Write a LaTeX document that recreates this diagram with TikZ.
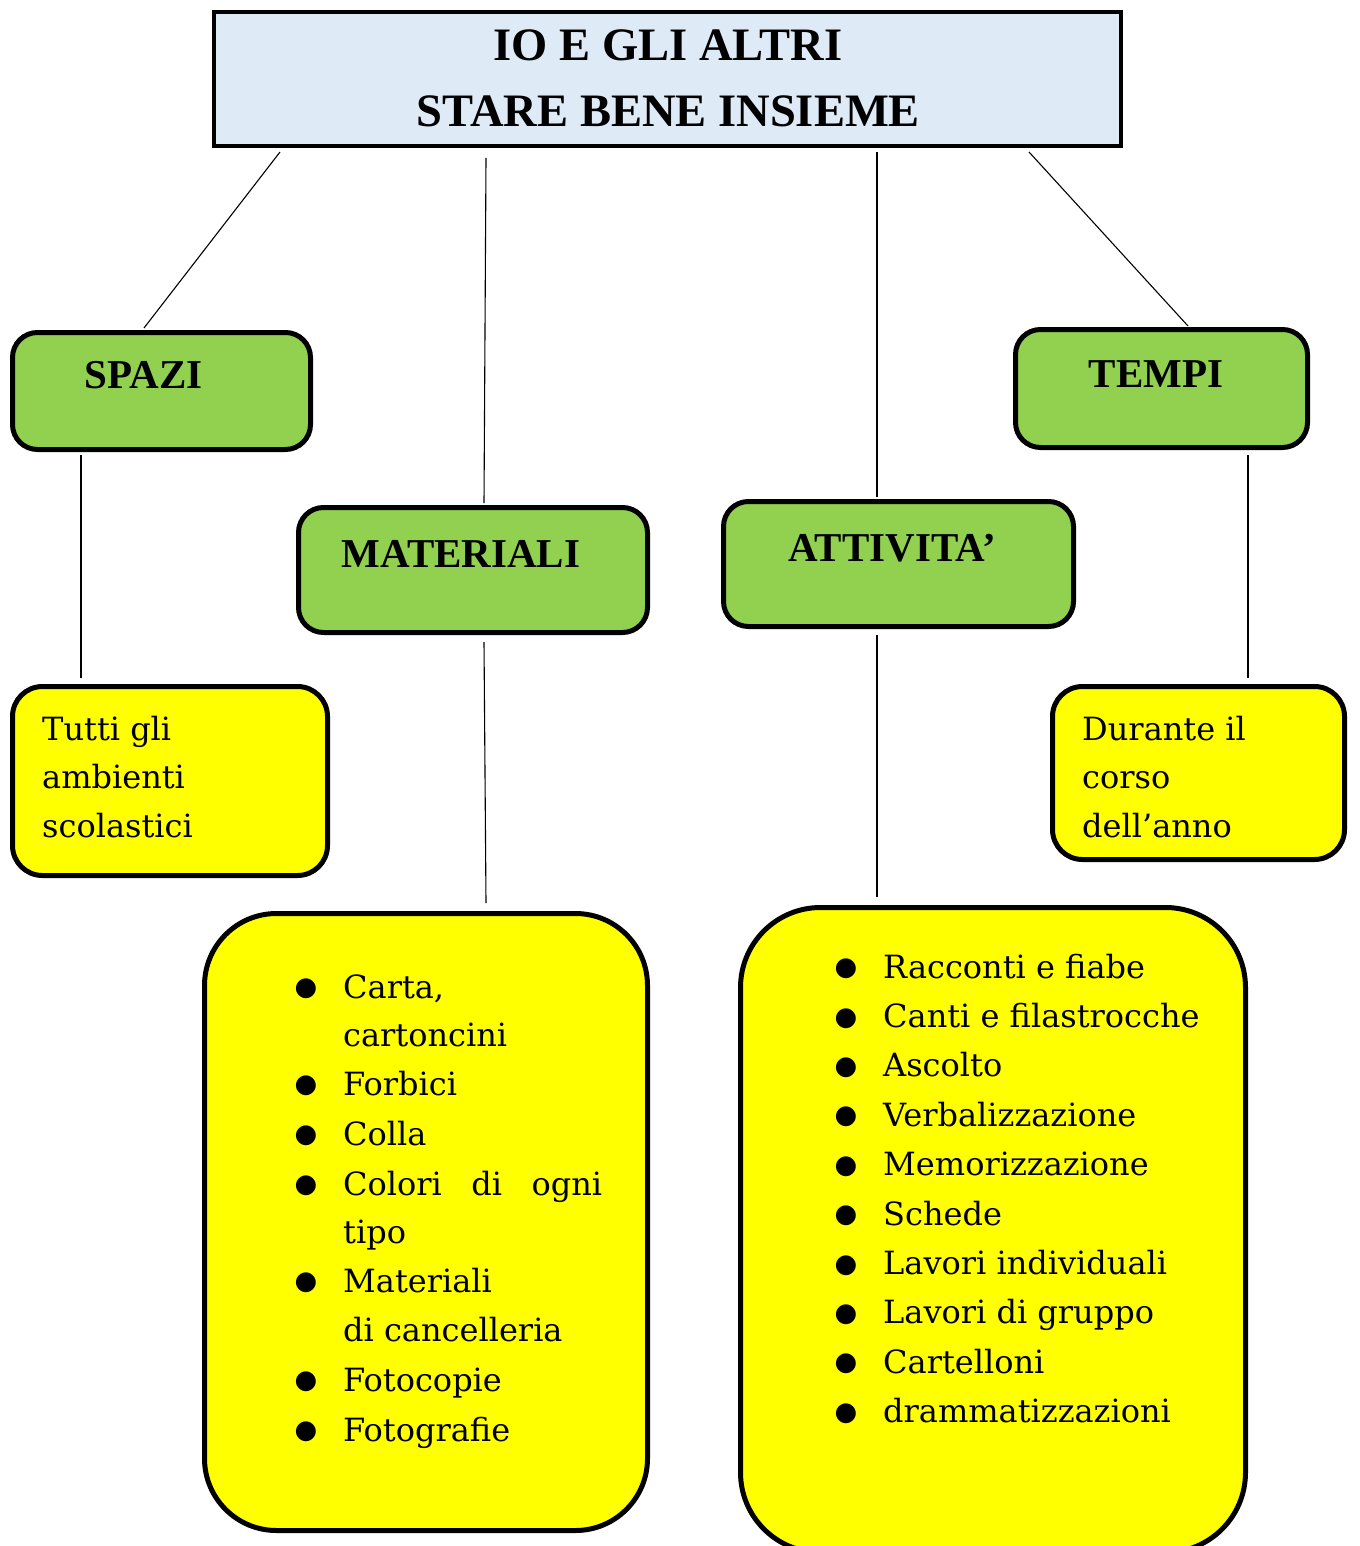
\documentclass[tikz,border=0pt]{standalone}
\usepackage{fontspec}
\setmainfont{DejaVu Serif}
\newfontfamily\headfont{Liberation Serif}
\newfontfamily\dotfont{DejaVu Sans}
\usetikzlibrary{positioning}

\definecolor{titleblue}{RGB}{222,234,246}
\definecolor{catgreen}{RGB}{146,208,80}
\definecolor{infoyellow}{RGB}{255,255,0}

\tikzset{
  titlebox/.style={draw, line width=4, fill=titleblue, inner sep=0pt},
  catbox/.style={draw, line width=5, fill=catgreen, rounded corners=25, inner sep=0pt},
  infobox/.style={draw, line width=5, fill=infoyellow, rounded corners=30, inner sep=0pt},
  link/.style={line width=1.1},
  headtxt/.style={font=\headfont\bfseries\fontsize{41}{41}\selectfont, inner sep=0pt, anchor=base},
  bodytxt/.style={font=\fontsize{32}{32}\selectfont, inner sep=0pt, anchor=base west},
  dot/.style={font=\dotfont\fontsize{26}{26}\selectfont, inner sep=0pt},
}

\begin{document}
\begin{tikzpicture}[x=1pt,y=1pt,yscale=-1,xscale=1]
\useasboundingbox (0,0) rectangle (1359,1546);
%Boxes
\node[titlebox, minimum width=907, minimum height=134] (title) at (667.5,79) {};
\node[catbox, minimum width=298, minimum height=117] (spazi) at (161.5,391) {};
\node[catbox, minimum width=292, minimum height=118] (tempi) at (1161.5,388.5) {};
\node[catbox, minimum width=349, minimum height=125] (materiali) at (473,570) {};
\node[catbox, minimum width=350, minimum height=125] (attivita) at (898.5,564) {};
\node[infobox, minimum width=315, minimum height=189] (spaziinfo) at (170,781) {};
\node[infobox, minimum width=292, minimum height=173] (tempiinfo) at (1198.5,773) {};
\node[infobox, rounded corners=72, minimum width=443, minimum height=617] (matlist) at (426,1222) {};
\node[infobox, rounded corners=80, minimum width=505, minimum height=645] (attlist) at (993,1230) {};
%Links
\draw[link] ([xshift=68pt,yshift=4pt]title.south west) -- ([xshift=-17.5pt,yshift=-2pt]spazi.north);
\draw[link] ([xshift=-181.5pt,yshift=10pt]title.south) -- ([xshift=11pt,yshift=-2pt]materiali.north);
\draw[link] ([xshift=209.5pt,yshift=4pt]title.south) -- ([xshift=-21.5pt,yshift=-2pt]attivita.north);
\draw[link] ([xshift=-94pt,yshift=4pt]title.south east) -- ([xshift=26.5pt,yshift=-1pt]tempi.north);
\draw[link] ([xshift=-80.5pt,yshift=3pt]spazi.south) -- ([xshift=-89pt,yshift=-6pt]spaziinfo.north);
\draw[link] ([xshift=11pt,yshift=7pt]materiali.south) -- ([xshift=60pt,yshift=-8pt]matlist.north);
\draw[link] ([xshift=-21.5pt,yshift=6pt]attivita.south) -- ([xshift=-116pt,yshift=-8pt]attlist.north);
\draw[link] ([xshift=86.5pt,yshift=5pt]tempi.south) -- ([xshift=49.5pt,yshift=-6pt]tempiinfo.north);
%Text
\node[headtxt, font=\headfont\bfseries\fontsize{46.5}{46.5}\selectfont] (title1) at (668,61) {IO E GLI ALTRI};
\node[headtxt, font=\headfont\bfseries\fontsize{46.5}{46.5}\selectfont] (title2) at (668.5,127) {STARE BENE INSIEME};
\node[headtxt] (spazitxt) at (143.5,388) {SPAZI};
\node[headtxt] (tempitxt) at (1156,387) {TEMPI};
\node[headtxt] (materialitxt) at (461,567) {MATERIALI};
\node[headtxt] (attivitatxt) at (892,561) {ATTIVITA’};
\foreach \t [count=\i from 0] in {Tutti gli, ambienti, scolastici}
  \node[bodytxt] (spazi\i) at (42,740+48.5*\i) {\t};
\foreach \t [count=\i from 0] in {Durante il, corso, dell’anno}
  \node[bodytxt] (tempi\i) at (1082,740+48.5*\i) {\t};
\foreach \y/\t [count=\i] in {998/{Carta,}, 1046/cartoncini, 1095/Forbici, 1145/Colla,
    1195/{\makebox[259pt][s]{Colori\hfill di\hfill ogni}}, 1243/tipo, 1292/Materiali,
    1341/di cancelleria, 1391/Fotocopie, 1441/Fotografie}
  \node[bodytxt] (mat\i) at (343,\y) {\t};
\foreach \y [count=\i] in {998,1095,1145,1195,1292,1391,1441}
  \node[dot] (matdot\i) at (306,\y-9.5) {●};
\foreach \t [count=\i from 0] in {Racconti e fiabe, Canti e filastrocche, Ascolto,
    Verbalizzazione, Memorizzazione, Schede, Lavori individuali, Lavori di gruppo,
    Cartelloni, drammatizzazioni}
  {\node[bodytxt] (att\i) at (883,978+49.4*\i) {\t};
   \node[dot] (attdot\i) at (846,969+49.4*\i) {●};}
\end{tikzpicture}
\end{document}
